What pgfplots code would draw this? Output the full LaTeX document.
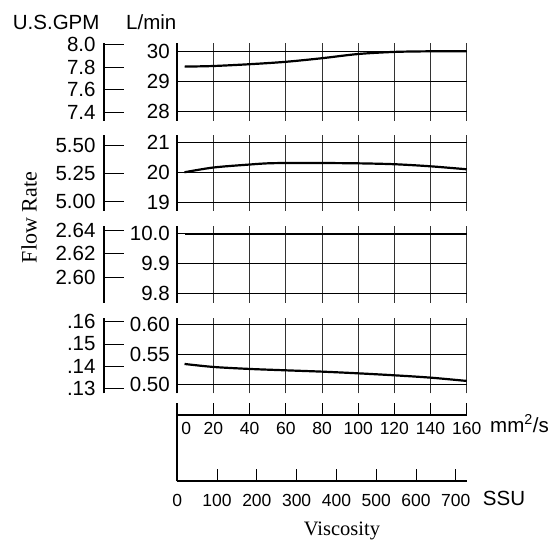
\documentclass[border=0pt]{standalone}
\usepackage{pgfplots}
\pgfplotsset{compat=1.18}
\usepackage{fontspec}
\setmainfont{Liberation Sans}
\newfontfamily\seriffont{Liberation Serif}
\begin{document}
\begin{tikzpicture}
\useasboundingbox (0pt,0pt) rectangle (559pt,539pt);
\pgfplotsset{
  panel/.style={
    scale only axis, width=289.4pt,
    xmin=0, xmax=160,
    axis y line*=left, axis x line*=bottom,
    x axis line style={draw=none},
    y axis line style={line width=2.3pt},
    xtick={0,20,...,160}, xticklabels={},
    xmajorgrids, ymajorgrids,
    x grid style={black!80, line width=1pt},
    y grid style={black, line width=0.9pt},
    major tick length=0pt,
    yticklabel style={font=\fontsize{20.5}{20.5}\selectfont, inner sep=0pt, anchor=east, xshift=-7.3pt},
    clip=false,
  },
  gpm/.style={
    scale only axis, width=19.7pt,
    xmin=0, xmax=1,
    axis y line*=left, axis x line*=bottom,
    x axis line style={draw=none}, xtick=\empty,
    y axis line style={line width=2.3pt},
    ytick align=inside, major tick length=19.7pt,
    ytick style={black, line width=0.9pt},
    yticklabel style={font=\fontsize{20.5}{20.5}\selectfont, inner sep=0pt, anchor=east, xshift=-8.6pt},
  },
  curve/.style={black, line width=2.2pt, smooth, no markers},
}
% ---------- Panel 1 ----------
\begin{axis}[panel, at={(177.3pt,418.3pt)}, anchor=south west, height=77.4pt,
  ymin=27.687, ymax=30.267, ytick={28,29,30}, yticklabels={28,29,30}]
\addplot[curve] coordinates {(4,29.49) (20,29.51) (40,29.57) (60,29.65) (80,29.77) (100,29.91) (120,29.98) (140,30.0) (160,30.0)};
\end{axis}
\begin{axis}[gpm, at={(104.3pt,418.3pt)}, anchor=south west, height=77.4pt,
  ymin=7.3224, ymax=8.0125, ytick={7.4,7.6,7.8,8.0}, yticklabels={7.4,7.6,7.8,8.0}]
\end{axis}
% ---------- Panel 2 ----------
\begin{axis}[panel, at={(177.3pt,328.3pt)}, anchor=south west, height=75.7pt,
  ymin=18.708, ymax=21.252, ytick={19,20,21}, yticklabels={19,20,21}]
\addplot[curve] coordinates {(4,20.0) (20,20.16) (40,20.26) (50,20.3) (60,20.31) (80,20.31) (100,20.3) (120,20.27) (140,20.2) (160,20.1)};
\end{axis}
\begin{axis}[gpm, at={(104.3pt,328.3pt)}, anchor=south west, height=75.7pt,
  ymin=4.9202, ymax=5.5913, ytick={5.0,5.25,5.5}, yticklabels={5.00,5.25,5.50}]
\end{axis}
% ---------- Panel 3 ----------
\begin{axis}[panel, at={(177.3pt,236.3pt)}, anchor=south west, height=77.2pt,
  ymin=9.77, ymax=10.0273, ytick={9.8,9.9,10.0}, yticklabels={9.8,9.9,10.0}]
\addplot[curve] coordinates {(4,10.0) (160,10.0)};
\end{axis}
\begin{axis}[gpm, at={(104.3pt,236.3pt)}, anchor=south west, height=77.2pt,
  ymin=2.5785, ymax=2.6438, ytick={2.60,2.62,2.64}, yticklabels={2.60,2.62,2.64}]
\end{axis}
% ---------- Panel 4 ----------
\begin{axis}[panel, at={(177.3pt,145.7pt)}, anchor=south west, height=75pt,
  ymin=0.485, ymax=0.61, ytick={0.50,0.55,0.60}, yticklabels={0.50,0.55,0.60}]
\addplot[curve] coordinates {(4,0.5339) (20,0.5289) (40,0.5256) (60,0.5233) (80,0.5211) (100,0.5183) (120,0.515) (140,0.5111) (160,0.5056)};
\end{axis}
\begin{axis}[gpm, at={(104.3pt,145.7pt)}, anchor=south west, height=75pt,
  ymin=0.12794, ymax=0.16152, ytick={0.13,0.14,0.15,0.16}, yticklabels={.13,.14,.15,.16}]
\end{axis}
% ---------- Viscosity axis (mm^2/s) ----------
\begin{axis}[scale only axis, width=289.4pt, height=11.4pt,
  at={(177.3pt,124.3pt)}, anchor=south west,
  xmin=0, xmax=160, ymin=0, ymax=1,
  axis y line*=left, axis x line*=bottom,
  axis line style={line width=2.3pt},
  ytick=\empty,
  xtick={0,20,...,160},
  xticklabels={\hspace*{18pt}0,20,40,60,80,100,120,140,160},
  xtick align=inside, major tick length=11.4pt,
  xtick style={black, line width=0.9pt},
  xticklabel style={font=\fontsize{17.5}{17.5}\selectfont, inner sep=0pt, anchor=north, yshift=-7.3pt},
]
\end{axis}
% ---------- Viscosity axis (SSU) ----------
\begin{axis}[scale only axis, width=289.4pt, height=66.6pt,
  at={(177.3pt,57.7pt)}, anchor=south west,
  xmin=0, xmax=727.6, ymin=0, ymax=1,
  axis y line*=left, axis x line*=bottom,
  axis line style={line width=2.3pt},
  ytick=\empty,
  xtick={0,100,...,700},
  xticklabels={0,100,200,300,400,500,600,700},
  xtick align=inside, major tick length=12pt,
  xtick style={black, line width=0.9pt},
  xticklabel style={font=\fontsize{17.5}{17.5}\selectfont, inner sep=0pt, anchor=north, yshift=-12.7pt},
]
\end{axis}
% ---------- Texts ----------
\node[anchor=base west, inner sep=0pt, font=\fontsize{20.5}{20.5}\selectfont] at (12.7pt,509.7pt) {U.S.GPM};
\node[anchor=base west, inner sep=0pt, font=\fontsize{20.5}{20.5}\selectfont] at (126pt,509.7pt) {L/min};
\node[anchor=base, rotate=90, inner sep=0pt, font=\seriffont\fontsize{22}{22}\selectfont] at (36.7pt,321.5pt) {Flow Rate};
\node[anchor=base west, inner sep=0pt, font=\fontsize{20.5}{20.5}\selectfont] at (490pt,106.7pt) {mm\textsuperscript{2}/s};
\node[anchor=base west, inner sep=0pt, font=\fontsize{20.5}{20.5}\selectfont] at (482.7pt,33.3pt) {SSU};
\node[anchor=base, inner sep=0pt, font=\seriffont\fontsize{20.5}{20.5}\selectfont] at (342pt,4pt) {Viscosity};
\end{tikzpicture}
\end{document}
